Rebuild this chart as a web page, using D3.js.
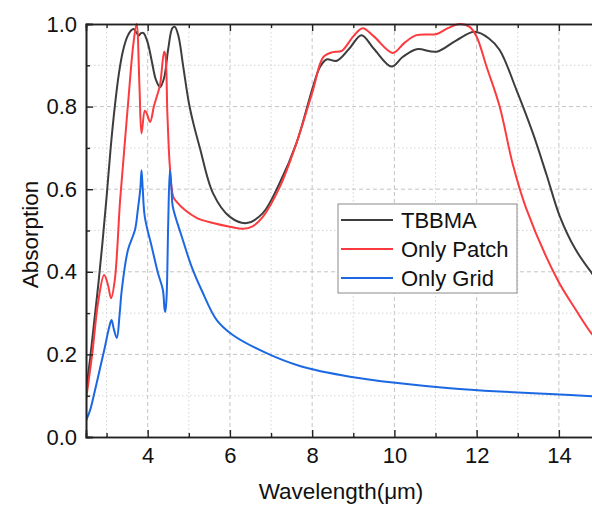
<!DOCTYPE html>
<html>
<head>
<meta charset="utf-8">
<script src="https://cdn.jsdelivr.net/npm/d3@7"></script>
<style>
  html, body { margin: 0; padding: 0; background: #fff; overflow: hidden; }
  text { font-family: Arial, "Liberation Sans", sans-serif; fill: #111; }
</style>
</head>
<body>
<div id="chart"></div>
<script>
const W = 620;
const H = 506;
const PLOT = { LEFT: 86, TOP: 24, RIGHT: 600, BOTTOM: 437 };

// series
const tbbmaX = [2.5, 2.6, 2.7, 2.8, 2.9, 3.0, 3.1, 3.2, 3.3, 3.4, 3.5, 3.6, 3.66, 3.72, 3.78, 3.84, 3.9, 4.0, 4.1, 4.2, 4.3, 4.4, 4.5, 4.6, 4.66, 4.75, 4.86, 5.0, 5.11, 5.27, 5.59, 6.0, 6.41, 6.8, 7.21, 7.62, 8.02, 8.19, 8.35, 8.6, 8.9, 9.2, 9.5, 9.93, 10.2, 10.54, 11.03, 11.5, 11.95, 12.3, 12.56, 12.97, 13.37, 13.7, 14.02, 14.4, 14.8, 15.0];
const tbbmaY = [0.11, 0.19, 0.28, 0.37, 0.47, 0.58, 0.70, 0.80, 0.88, 0.935, 0.968, 0.985, 0.988, 0.98, 0.972, 0.978, 0.978, 0.955, 0.91, 0.865, 0.847, 0.87, 0.94, 0.99, 0.993, 0.97, 0.90, 0.81, 0.76, 0.70, 0.59, 0.533, 0.518, 0.542, 0.615, 0.712, 0.848, 0.896, 0.914, 0.911, 0.94, 0.973, 0.94, 0.897, 0.92, 0.939, 0.933, 0.96, 0.981, 0.965, 0.937, 0.84, 0.735, 0.635, 0.535, 0.455, 0.397, 0.372];

const patchX = [2.5, 2.65, 2.8, 2.94, 3.03, 3.11, 3.2, 3.33, 3.45, 3.53, 3.65, 3.73, 3.8, 3.85, 3.93, 3.97, 4.06, 4.15, 4.22, 4.3, 4.4, 4.43, 4.48, 4.54, 4.62, 4.7, 4.9, 5.2, 5.59, 6.0, 6.32, 6.55, 6.8, 7.21, 7.62, 8.02, 8.27, 8.5, 8.72, 9.0, 9.23, 9.5, 9.96, 10.25, 10.54, 11.03, 11.3, 11.59, 11.83, 12.0, 12.24, 12.56, 12.88, 13.2, 13.97, 14.4, 14.8, 15.0];
const patchY = [0.09, 0.2, 0.33, 0.392, 0.37, 0.336, 0.38, 0.574, 0.72, 0.816, 0.95, 1.0, 0.85, 0.735, 0.79, 0.785, 0.763, 0.80, 0.824, 0.852, 0.933, 0.925, 0.78, 0.654, 0.582, 0.57, 0.55, 0.53, 0.518, 0.509, 0.504, 0.51, 0.533, 0.605, 0.712, 0.84, 0.92, 0.932, 0.935, 0.97, 0.99, 0.97, 0.93, 0.955, 0.973, 0.976, 0.99, 1.0, 0.993, 0.969, 0.897, 0.80, 0.66, 0.555, 0.38, 0.31, 0.25, 0.23];

const gridX = [2.5, 2.6, 2.72, 2.85, 2.96, 3.05, 3.12, 3.18, 3.25, 3.32, 3.37, 3.52, 3.69, 3.76, 3.82, 3.85, 3.88, 3.93, 4.1, 4.25, 4.37, 4.41, 4.43, 4.46, 4.5, 4.54, 4.58, 4.61, 4.83, 5.07, 5.31, 5.68, 6.07, 6.89, 7.7, 8.92, 10.13, 11.35, 12.56, 13.78, 15.0];
const gridY = [0.04, 0.065, 0.114, 0.17, 0.218, 0.26, 0.283, 0.26, 0.24, 0.30, 0.356, 0.453, 0.501, 0.55, 0.60, 0.646, 0.60, 0.533, 0.46, 0.397, 0.356, 0.31, 0.303, 0.34, 0.52, 0.646, 0.60, 0.558, 0.485, 0.412, 0.356, 0.283, 0.247, 0.203, 0.172, 0.146, 0.13, 0.118, 0.11, 0.104, 0.098];

const seriesNames = ['TBBMA', 'Only Patch', 'Only Grid'];
const seriesColors = ['#3d3d3d', '#fb3b3f', '#1c68e2'];

const xMajor = [4, 6, 8, 10, 12, 14];
const xMinor = [3, 5, 7, 9, 11, 13, 15];
const yMajor = [0.0, 0.2, 0.4, 0.6, 0.8, 1.0];
const yMinor = [0.1, 0.3, 0.5, 0.7, 0.9];

const svg = d3.select('#chart')
  .append('svg')
  .attr('width', W)
  .attr('height', H);

const x = d3.scaleLinear().domain([2.5, 15]).range([PLOT.LEFT, PLOT.RIGHT]);
const y = d3.scaleLinear().domain([0, 1]).range([PLOT.BOTTOM, PLOT.TOP]);

// grid
const grid = svg.append('g');
grid.selectAll('.vmin').data(xMinor).enter().append('line')
  .attr('x1', d => x(d)).attr('x2', d => x(d))
  .attr('y1', PLOT.TOP).attr('y2', PLOT.BOTTOM)
  .attr('stroke', '#d4d4d4').attr('stroke-width', 1).attr('stroke-dasharray', '1.5,2.5');
grid.selectAll('.vmaj').data(xMajor).enter().append('line')
  .attr('x1', d => x(d)).attr('x2', d => x(d))
  .attr('y1', PLOT.TOP).attr('y2', PLOT.BOTTOM)
  .attr('stroke', '#c4c4c4').attr('stroke-width', 1).attr('stroke-dasharray', '4,3');
grid.selectAll('.hmin').data(yMinor).enter().append('line')
  .attr('y1', d => y(d)).attr('y2', d => y(d))
  .attr('x1', PLOT.LEFT).attr('x2', PLOT.RIGHT)
  .attr('stroke', '#d4d4d4').attr('stroke-width', 1).attr('stroke-dasharray', '1.5,2.5');
grid.selectAll('.hmaj').data(yMajor.slice(1, -1)).enter().append('line')
  .attr('y1', d => y(d)).attr('y2', d => y(d))
  .attr('x1', PLOT.LEFT).attr('x2', PLOT.RIGHT)
  .attr('stroke', '#c4c4c4').attr('stroke-width', 1).attr('stroke-dasharray', '4,3');

// curves
svg.append('clipPath').attr('id', 'clip')
  .append('rect')
  .attr('x', PLOT.LEFT).attr('y', PLOT.TOP - 2)
  .attr('width', PLOT.RIGHT - PLOT.LEFT).attr('height', PLOT.BOTTOM - PLOT.TOP + 2);

const line = d3.line()
  .x(d => x(d[0]))
  .y(d => y(d[1]))
  .curve(d3.curveCatmullRom.alpha(0.5));

const series = [
  d3.zip(tbbmaX, tbbmaY),
  d3.zip(patchX, patchY),
  d3.zip(gridX, gridY)
];

svg.append('g').attr('clip-path', 'url(#clip)')
  .selectAll('path')
  .data(series)
  .enter()
  .append('path')
  .attr('d', line)
  .attr('fill', 'none')
  .attr('stroke', (d, i) => seriesColors[i])
  .attr('stroke-width', 2);

// axes, ticks inward
const fmt = d3.format('.1f');
const axisColor = '#222';

function styleAxis(g) {
  g.select('.domain').attr('stroke', axisColor).attr('stroke-width', 1.6);
  g.selectAll('.tick line').attr('stroke', axisColor).attr('stroke-width', 1.4);
  g.selectAll('.tick text').attr('font-size', 22).attr('fill', '#111')
    .attr('font-family', 'Arial, "Liberation Sans", sans-serif');
}

svg.append('g')
  .attr('transform', `translate(0,${PLOT.BOTTOM})`)
  .call(d3.axisBottom(x).tickValues(xMajor).tickSize(-7).tickPadding(10).tickFormat(d3.format('d')))
  .call(styleAxis);
svg.append('g')
  .attr('transform', `translate(0,${PLOT.BOTTOM})`)
  .call(d3.axisBottom(x).tickValues(xMinor).tickSize(-4).tickFormat(''))
  .call(styleAxis);

svg.append('g')
  .attr('transform', `translate(0,${PLOT.TOP})`)
  .call(d3.axisTop(x).tickValues(xMajor).tickSize(-7).tickFormat(''))
  .call(styleAxis);
svg.append('g')
  .attr('transform', `translate(0,${PLOT.TOP})`)
  .call(d3.axisTop(x).tickValues(xMinor).tickSize(-4).tickFormat(''))
  .call(styleAxis);

svg.append('g')
  .attr('transform', `translate(${PLOT.LEFT},0)`)
  .call(d3.axisLeft(y).tickValues(yMajor).tickSize(-7).tickPadding(9).tickFormat(fmt))
  .call(styleAxis);
svg.append('g')
  .attr('transform', `translate(${PLOT.LEFT},0)`)
  .call(d3.axisLeft(y).tickValues(yMinor).tickSize(-4).tickFormat(''))
  .call(styleAxis);

svg.append('g')
  .attr('transform', `translate(${PLOT.RIGHT},0)`)
  .call(d3.axisRight(y).tickValues(yMajor).tickSize(-7).tickFormat(''))
  .call(styleAxis);
svg.append('g')
  .attr('transform', `translate(${PLOT.RIGHT},0)`)
  .call(d3.axisRight(y).tickValues(yMinor).tickSize(-4).tickFormat(''))
  .call(styleAxis);

// axis titles
svg.append('text')
  .attr('x', 341)
  .attr('y', 499)
  .attr('text-anchor', 'middle')
  .attr('font-size', 22.5)
  .text('Wavelength(μm)');

svg.append('text')
  .attr('transform', `translate(38, ${(PLOT.TOP + PLOT.BOTTOM) / 2 + 4}) rotate(-90)`)
  .attr('text-anchor', 'middle')
  .attr('font-size', 22.5)
  .text('Absorption');

// legend
const legend = svg.append('g').attr('transform', 'translate(338,204)');
legend.append('rect')
  .attr('width', 179).attr('height', 89)
  .attr('fill', '#fff').attr('stroke', '#8a8a8a').attr('stroke-width', 1);

const item = legend.selectAll('.item')
  .data(seriesNames)
  .enter()
  .append('g')
  .attr('transform', (d, i) => `translate(0,${16 + i * 29})`);

item.append('line')
  .attr('x1', 3).attr('x2', 55)
  .attr('stroke', (d, i) => seriesColors[i])
  .attr('stroke-width', 2);

item.append('text')
  .attr('x', 63)
  .attr('y', 8)
  .attr('font-size', 22)
  .text(d => d);
</script>
</body>
</html>
